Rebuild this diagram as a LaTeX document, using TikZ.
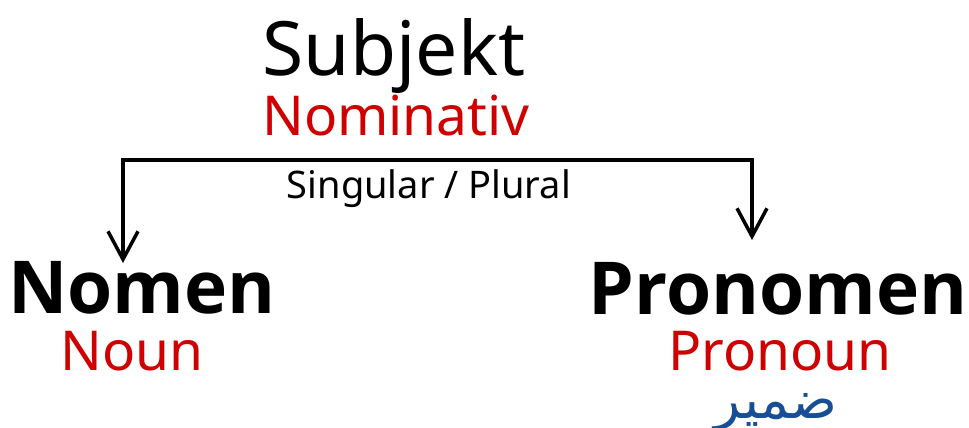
\documentclass[tikz,border=0pt]{standalone}
\usepackage{fontspec}
\setmainfont{Noto Sans}
\newfontfamily\termfont{Open Sans}
\newfontfamily\arabicfont[Script=Arabic]{DejaVu Sans}
\TeXXeTstate=1
\usepackage{tikz}
\usetikzlibrary{arrows.meta,positioning,calc}
\usepackage{xcolor}
\definecolor{casered}{RGB}{206,0,0}
\definecolor{arabblue}{RGB}{24,78,150}

\tikzset{
  word/.style={anchor=base,inner sep=0pt},
  head/.style={word,font=\fontsize{75}{80}\selectfont},
  gloss/.style={word,text=casered,font=\fontsize{55}{60}\selectfont},
  term/.style={word,font=\termfont\bfseries\fontsize{73}{80}\selectfont},
  branch/.style={line width=3.5pt,{Straight Barb[length=28pt,width=30pt]}-{Straight Barb[length=28pt,width=30pt]}}
}

\begin{document}
\begin{tikzpicture}[x=1pt,y=-1pt]
  \useasboundingbox (0,0) rectangle (969,428);

  % top: subject
  \node[head] (subj) at (394,75) {Subjekt};
  \node[gloss] (nomin) at (396,135) {Nominativ};

  % the two cases
  \node[term] (nomen) at (142,313) {Nomen};
  \node[gloss] (noun) at (132,370) {Noun};
  \node[term] (pronomen) at (778,314) {Pronomen};
  \node[gloss] (pronoun) at (780,370) {Pronoun};
  \node[word,text=arabblue] (damir) at (776,418)
    {\arabicfont\fontsize{54}{56}\selectfont\beginR ضمير\endR};

  % branch
  \coordinate (lc) at (123,160);
  \coordinate (rc) at (752,160);
  \coordinate (ltip) at (123,263);
  \coordinate (rtip) at (752,240);
  \draw[branch] (ltip) |- (rc) -- (rtip);
  \node[word,font=\fontsize{38}{40}\selectfont] (num) at (429,198) {Singular / Plural};
\end{tikzpicture}
\end{document}
